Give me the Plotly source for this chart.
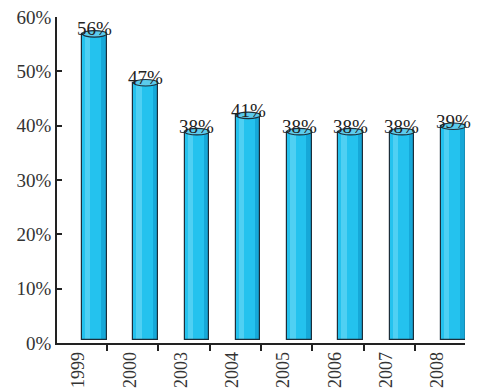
import plotly.graph_objects as go

years = ["1999", "2000", "2003", "2004", "2005", "2006", "2007", "2008"]
values = [56, 47, 38, 41, 38, 38, 38, 39]
labels = ["56%", "47%", "38%", "41%", "38%", "38%", "38%", "39%"]
ytick_vals = [0, 10, 20, 30, 40, 50, 60]
ytick_text = ["0%", "10%", "20%", "30%", "40%", "50%", "60%"]

xs = list(range(len(years)))
W = 0.48          # bar width (category units)
BASE = 0.6        # cylinder floats slightly above the axis
CAP = 0.9         # visual cylinder extends a bit above the value
heights = [v + CAP - BASE for v in values]
SERIF = "'Liberation Serif', 'Times New Roman', serif"
OUT = "#1c2e3a"

fig = go.Figure()
# main body
fig.add_trace(go.Bar(x=xs, y=heights, base=BASE, width=W,
                     marker=dict(color="#24c2ee", line=dict(width=0)),
                     hoverinfo="skip", showlegend=False))
# light highlight strip on the left
fig.add_trace(go.Bar(x=xs, y=heights, base=BASE, width=W * 0.22, offset=-W / 2 + W * 0.12,
                     marker=dict(color="#4fd0f3", line=dict(width=0)),
                     hoverinfo="skip", showlegend=False))
# darker strip on the right
fig.add_trace(go.Bar(x=xs, y=heights, base=BASE, width=W * 0.22, offset=W / 2 - W * 0.22,
                     marker=dict(color="#16a8d8", line=dict(width=0)),
                     hoverinfo="skip", showlegend=False))
# outline
fig.add_trace(go.Bar(x=xs, y=heights, base=BASE, width=W,
                     marker=dict(color="rgba(0,0,0,0)", line=dict(width=1.2, color=OUT)),
                     hoverinfo="skip", showlegend=False))

shapes = []
annotations = []
for i, v in enumerate(values):
    top = v + CAP
    shapes.append(dict(type="circle", xref="x", yref="y",
                       x0=i - W / 2, x1=i + W / 2, y0=top - 0.6, y1=top + 0.6,
                       fillcolor="#5ccbec", line=dict(color=OUT, width=1.1)))
    annotations.append(dict(x=i, y=v + 1.8, xref="x", yref="y", text=labels[i],
                            showarrow=False, yanchor="middle", xanchor="center",
                            font=dict(family=SERIF, size=19, color="#222222")))

fig.update_layout(
    width=500, height=392,
    margin=dict(l=57, r=35, t=17, b=49),
    paper_bgcolor="white", plot_bgcolor="white",
    barmode="overlay", bargap=0,
    shapes=shapes, annotations=annotations,
    xaxis=dict(range=[-0.73, 7.23], automargin=False,
               tickmode="array", tickvals=[i - 0.31 for i in xs], ticktext=years,
               tickangle=-90, ticks="", showgrid=False, zeroline=False,
               showline=True, linecolor="#222222", linewidth=1.5,
               tickfont=dict(family=SERIF, size=18, color="#333333"),
               minor=dict(tickmode="array", tickvals=[i + 0.25 for i in xs],
                          ticks="outside", ticklen=6, tickcolor="#222222", tickwidth=1.5)),
    yaxis=dict(range=[0, 60], automargin=False,
               tickmode="array", tickvals=ytick_vals, ticktext=ytick_text,
               ticks="inside", ticklen=5, tickcolor="#222222", tickwidth=1.5,
               showgrid=False, zeroline=False,
               showline=True, linecolor="#222222", linewidth=1.5,
               tickfont=dict(family=SERIF, size=19, color="#333333")),
)

fig.write_html("out.html")
